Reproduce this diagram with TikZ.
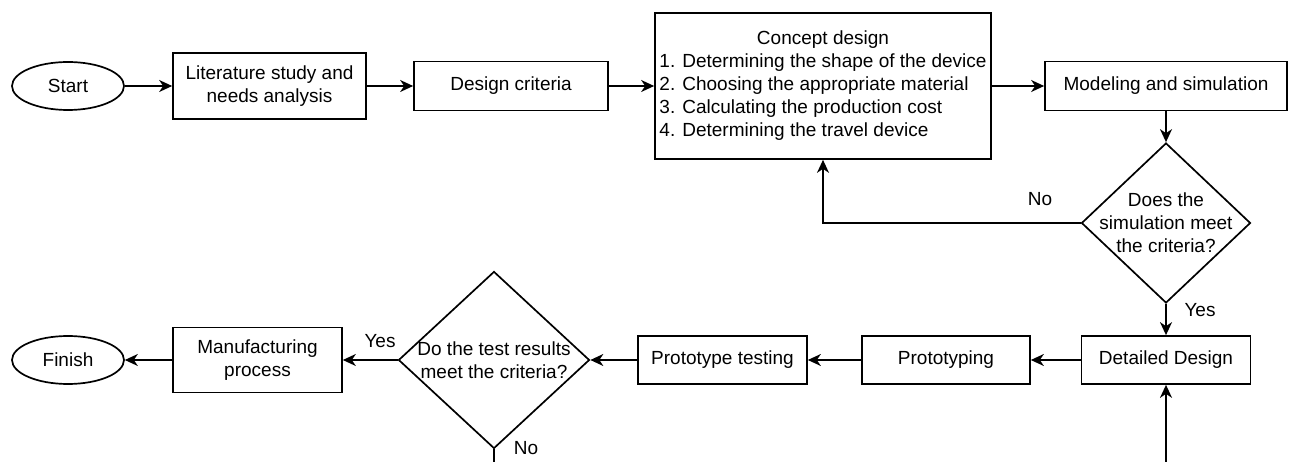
\documentclass[tikz,border=0pt]{standalone}
\usepackage{fontspec}
\setmainfont{Liberation Sans}
\usetikzlibrary{shapes.geometric,arrows.meta}

\begin{document}
\begin{tikzpicture}[x=1pt,y=-1pt,
    font=\fontsize{19}{23}\selectfont,
    line width=1.7pt,
    box/.style={draw,rectangle,align=center,inner sep=0pt},
    term/.style={draw,ellipse,inner sep=0pt,minimum width=112pt,minimum height=48pt},
    decision/.style={draw,diamond,inner sep=0pt},
    flow/.style={-{Stealth[length=13pt,width=12pt,inset=4pt]}},
  ]
  \useasboundingbox (0,0) rectangle (1296,462);

  \node[term] (start) at (68,86) {Start};
  \node[box,minimum width=193pt,minimum height=66pt] (study) at (269.5,86) {Literature study and\\needs analysis};
  \node[box,minimum width=194pt,minimum height=49pt] (crit) at (511,86) {Design criteria};
  \node[box,minimum width=336pt,minimum height=146pt] (concept) at (823,86) {\begin{tabular}{@{}l@{}}\multicolumn{1}{@{}c@{}}{Concept design}\\
    1. Determining the shape of the device\\
    2. Choosing the appropriate material\\
    3. Calculating the production cost\\
    4. Determining the travel device\end{tabular}};
  \node[box,minimum width=242pt,minimum height=49pt] (model) at (1166,86) {Modeling and simulation};
  \node[decision,minimum width=169pt,minimum height=160pt,
    label={[align=center]center:Does the\\simulation meet\\the criteria?}] (simok) at (1166,223) {};

  \node[box,minimum width=169pt,minimum height=48pt] (detail) at (1166,360) {Detailed Design};
  \node[box,minimum width=168pt,minimum height=48pt] (proto) at (946,360) {Prototyping};
  \node[box,minimum width=169pt,minimum height=48pt] (ptest) at (722.5,360) {Prototype testing};
  \node[decision,minimum width=191pt,minimum height=177pt,
    label={[align=center]center:Do the test results\\meet the criteria?}] (testok) at (494,360) {};
  \node[box,minimum width=169pt,minimum height=65pt] (manuf) at (257.5,360) {Manufacturing\\process};
  \node[term] (finish) at (68,360) {Finish};

  \node (simno) at (1040,199) {No};
  \node (simyes) at (1200,310) {Yes};
  \node (testyes) at (380,341) {Yes};
  \node (testno) at (526,448) {No};
  \coordinate (testout) at (494,462);
  \coordinate (loopin) at (1166,462);

  \draw[flow] (start) -- (study);
  \draw[flow] (study) -- (crit);
  \draw[flow] (crit) -- (concept);
  \draw[flow] (concept) -- (model);
  \draw[flow] (model) -- (simok);
  \draw[flow] (simok.west) -| (concept.south);
  \draw[flow] (simok) -- (detail);
  \draw[flow] (detail) -- (proto);
  \draw[flow] (proto) -- (ptest);
  \draw[flow] (ptest) -- (testok);
  \draw[flow] (testok) -- (manuf);
  \draw[flow] (manuf) -- (finish);
  \draw (testok.south) -- (testout);
  \draw[flow] (loopin) -- (detail.south);
\end{tikzpicture}
\end{document}
